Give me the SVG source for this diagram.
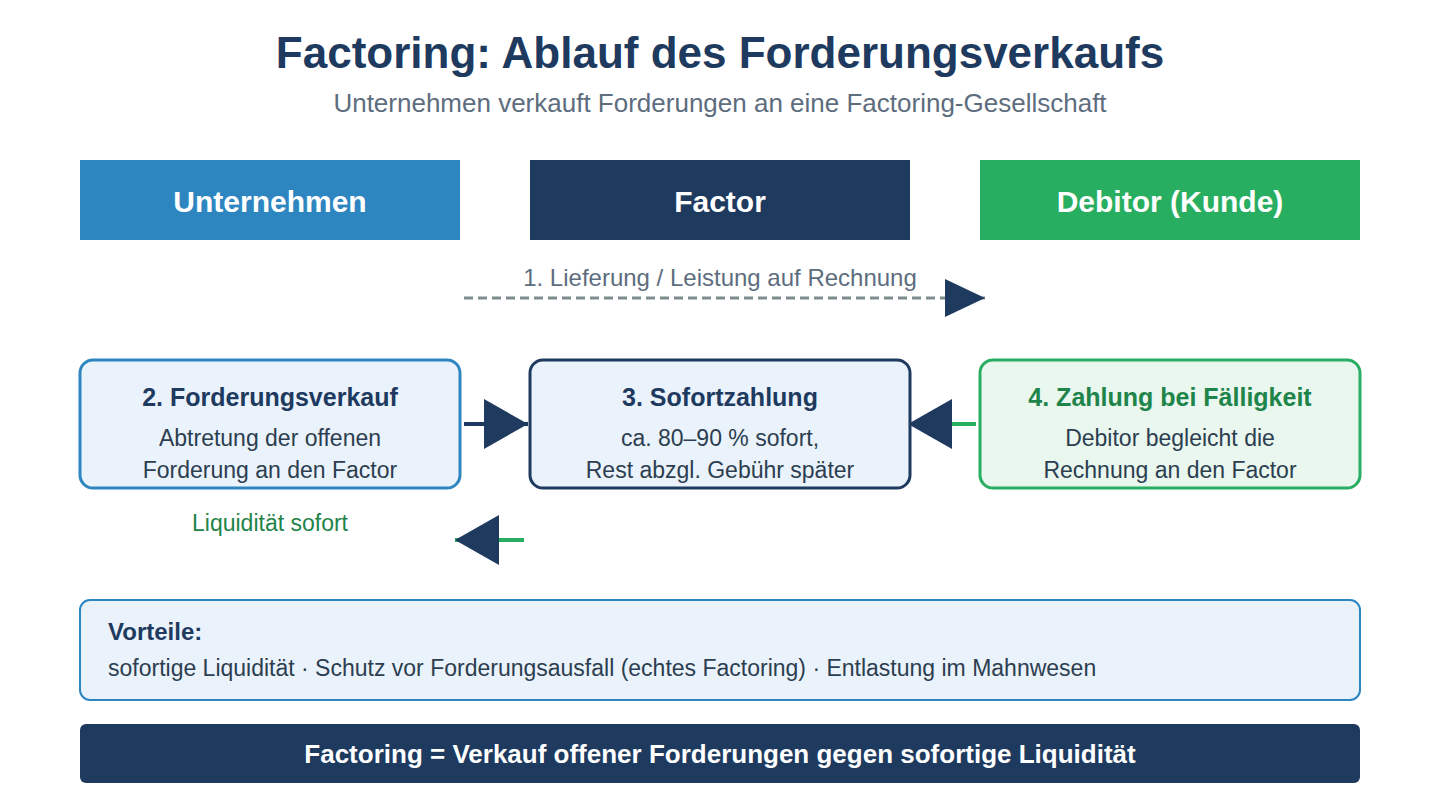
<svg xmlns="http://www.w3.org/2000/svg" width="1440" height="800" viewBox="0 0 1440 800">
<defs>
<style>
.t{font-family:"Liberation Sans",Arial,sans-serif}
.title{font-size:44px;font-weight:bold;fill:#1e3a5f}
.sub{font-size:26px;fill:#5d6d7e}
.hdr{font-size:30px;font-weight:bold;fill:#ffffff}
.bt{font-size:25px;font-weight:bold;fill:#1e3a5f}
.bb{font-size:23px;fill:#2c3e50}
.lbl{font-size:24px;fill:#5d6d7e}
</style>
<marker id="ahBig" markerUnits="userSpaceOnUse" markerWidth="44" markerHeight="50" refX="44" refY="25" orient="auto" viewBox="0 0 44 50"><path d="M0,0 L44,25 L0,50 Z" fill="#1e3a5f"/></marker>
<marker id="ahMid" markerUnits="userSpaceOnUse" markerWidth="40" markerHeight="38" refX="40" refY="19" orient="auto" viewBox="0 0 40 38"><path d="M0,0 L40,19 L0,38 Z" fill="#1e3a5f"/></marker>
</defs>
<rect width="1440" height="800" fill="#ffffff"/>
<text class="t title" x="720" y="68" text-anchor="middle">Factoring: Ablauf des Forderungsverkaufs</text>
<text class="t sub" x="720" y="112" text-anchor="middle">Unternehmen verkauft Forderungen an eine Factoring-Gesellschaft</text>

<g id="hdr-unternehmen"><rect x="80" y="160" width="380" height="80" fill="#2e86c1"/><text class="t hdr" x="270" y="212" text-anchor="middle">Unternehmen</text></g>
<g id="hdr-factor"><rect x="530" y="160" width="380" height="80" fill="#1e3a5f"/><text class="t hdr" x="720" y="212" text-anchor="middle">Factor</text></g>
<g id="hdr-debitor"><rect x="980" y="160" width="380" height="80" fill="#27ae60"/><text class="t hdr" x="1170" y="212" text-anchor="middle">Debitor (Kunde)</text></g>

<g id="connectors">
<line x1="464" y1="298" x2="985" y2="298" stroke="#7f8c8d" stroke-width="3" stroke-dasharray="9 5" marker-end="url(#ahMid)"/>
<text class="t lbl" x="720" y="286" text-anchor="middle">1. Lieferung / Leistung auf Rechnung</text>
<line x1="464" y1="424" x2="528" y2="424" stroke="#1e3a5f" stroke-width="4" marker-end="url(#ahBig)"/>
<line x1="976" y1="424" x2="908" y2="424" stroke="#27ae60" stroke-width="4" marker-end="url(#ahBig)"/>
<line x1="524" y1="540" x2="455" y2="540" stroke="#27ae60" stroke-width="4" marker-end="url(#ahBig)"/>
<text class="t" x="270" y="531" text-anchor="middle" font-size="23" fill="#1e8449">Liquidität sofort</text>
</g>

<g id="step2"><rect x="80" y="360" width="380" height="128" rx="13" fill="#eaf2fb" stroke="#2e86c1" stroke-width="3"/>
<text class="t bt" x="270" y="406" text-anchor="middle">2. Forderungsverkauf</text>
<text class="t bb" x="270" y="446" text-anchor="middle">Abtretung der offenen</text>
<text class="t bb" x="270" y="478" text-anchor="middle">Forderung an den Factor</text></g>
<g id="step3"><rect x="530" y="360" width="380" height="128" rx="13" fill="#eaf2fb" stroke="#1e3a5f" stroke-width="3"/>
<text class="t bt" x="720" y="406" text-anchor="middle">3. Sofortzahlung</text>
<text class="t bb" x="720" y="446" text-anchor="middle">ca. 80–90 % sofort,</text>
<text class="t bb" x="720" y="478" text-anchor="middle">Rest abzgl. Gebühr später</text></g>
<g id="step4"><rect x="980" y="360" width="380" height="128" rx="13" fill="#e9f7ef" stroke="#27ae60" stroke-width="3"/>
<text class="t bt" x="1170" y="406" text-anchor="middle" style="fill:#1e8449">4. Zahlung bei Fälligkeit</text>
<text class="t bb" x="1170" y="446" text-anchor="middle">Debitor begleicht die</text>
<text class="t bb" x="1170" y="478" text-anchor="middle">Rechnung an den Factor</text></g>

<g id="vorteile"><rect x="80" y="600" width="1280" height="100" rx="10" fill="#eaf2fb" stroke="#2e86c1" stroke-width="2"/>
<text class="t" x="108" y="640" font-size="24" font-weight="bold" fill="#1e3a5f">Vorteile:</text>
<text class="t bb" x="108" y="676">sofortige Liquidität · Schutz vor Forderungsausfall (echtes Factoring) · Entlastung im Mahnwesen</text></g>

<g id="summary"><rect x="80" y="724" width="1280" height="59" rx="6" fill="#1e3a5f"/>
<text class="t" x="720" y="763" text-anchor="middle" font-size="26" font-weight="bold" fill="#ffffff">Factoring = Verkauf offener Forderungen gegen sofortige Liquidität</text></g>
</svg>
